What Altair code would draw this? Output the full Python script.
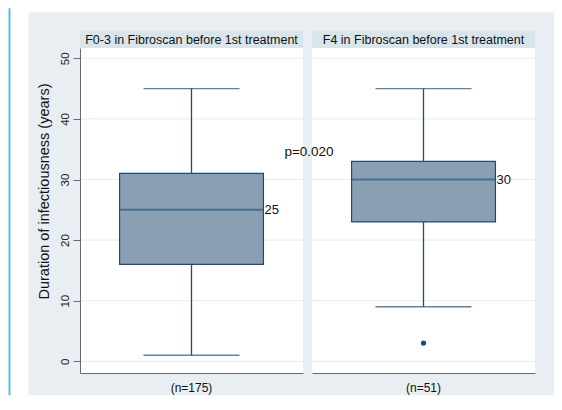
import altair as alt
import pandas as pd

# ---- data ----
panel_titles = ["F0-3 in Fibroscan before 1st treatment", "F4 in Fibroscan before 1st treatment"]
n_labels = ["(n=175)", "(n=51)"]
whisker_low = [1, 9]
quartile_1 = [16, 23]
medians = [25, 30]
quartile_3 = [31, 33]
whisker_high = [45, 45]
outlier_panel = [1]
outlier_values = [3]
p_text = ["p=0.020"]
p_text_y = [34.6]
y_ticks = [0, 10, 20, 30, 40, 50]
y_title = "Duration of infectiousness (years)"

# ---- styling ----
FONT = "Liberation Sans"
W, H = 223, 325
Y_DOMAIN = [-1.93, 51.7]
PANEL_BG = "#E8EEF1"
STRIP_BG = "#D9E4EB"
GRID = "#E4ECEF"
AXIS = "#6A6A6A"
NAVY = "#1F4C76"
BOX_FILL = "#8A9FB4"
CYAN = "#55BFE0"
BOX_W = 144
CAP_W = 96


def make_panel(i):
    first = i == 0
    df = pd.DataFrame({
        "n": [n_labels[i]],
        "title": [panel_titles[i]],
        "lo": [whisker_low[i]],
        "q1": [quartile_1[i]],
        "med": [medians[i]],
        "q3": [quartile_3[i]],
        "hi": [whisker_high[i]],
        "med_label": [str(medians[i])],
    })
    ticks_df = pd.DataFrame({"t": y_ticks})

    if first:
        y_axis = alt.Axis(
            values=y_ticks, grid=False, title=y_title, titleFont=FONT, titleFontSize=14.5,
            titleFontWeight="normal", titleColor="#111", titlePadding=8, titleY=143,
            labelAngle=-90, labelAlign="center", labelBaseline="bottom", labelPadding=3,
            labelFont=FONT, labelFontSize=11.5, labelColor="#222",
            tickSize=7, tickColor=AXIS, domainColor=AXIS, zindex=1,
        )
    else:
        y_axis = None
    yscale = alt.Scale(domain=Y_DOMAIN, nice=False, zero=False)

    def Y(field):
        return alt.Y(f"{field}:Q", scale=yscale, axis=y_axis)

    def Y2(field):
        return alt.Y2(f"{field}:Q")

    x_axis = alt.Axis(
        title=None, ticks=False, domain=True, domainColor=AXIS, labelAngle=0,
        labelFont=FONT, labelFontSize=12, labelColor="#111", labelPadding=9, zindex=1,
    )
    X = alt.X("n:N", scale=alt.Scale(paddingInner=0, paddingOuter=0.275), axis=x_axis)

    base = alt.Chart(df)
    layers = []
    # outer grey-blue panel (background decoration)
    if first:
        layers.append(base.mark_rect(color=CYAN).encode(
            x=alt.value(-71.5), x2=alt.value(-69.5), y=alt.value(-39.7), y2=alt.value(347.3)))
        layers.append(base.mark_rect(color=PANEL_BG).encode(
            x=alt.value(-51.5), x2=alt.value(W + 5), y=alt.value(-35.7), y2=alt.value(347.3)))
    else:
        layers.append(base.mark_rect(color=PANEL_BG).encode(
            x=alt.value(-5), x2=alt.value(242), y=alt.value(-35.7), y2=alt.value(347.3)))
    # white plot region
    layers.append(base.mark_rect(color="white").encode(
        x=alt.value(0), x2=alt.value("width"), y=alt.value(0), y2=alt.value("height")))
    # strip title
    layers.append(base.mark_rect(color=STRIP_BG).encode(
        x=alt.value(0), x2=alt.value("width"), y=alt.value(-16.7), y2=alt.value(0)))
    layers.append(base.mark_text(font=FONT, fontSize=12.5, color="#111", baseline="middle").encode(
        x=X, y=alt.value(-8.2), text="title:N"))
    # grid lines
    layers.append(alt.Chart(ticks_df).mark_rule(color=GRID, strokeWidth=1).encode(y=Y("t")))
    # whisker + caps
    layers.append(base.mark_rule(color=NAVY, strokeWidth=1.3).encode(x=X, y=Y("lo"), y2=Y2("hi")))
    layers.append(base.mark_tick(color=NAVY, size=CAP_W, thickness=1.3).encode(x=X, y=Y("lo")))
    layers.append(base.mark_tick(color=NAVY, size=CAP_W, thickness=1.3).encode(x=X, y=Y("hi")))
    # box
    layers.append(base.mark_bar(color=BOX_FILL, stroke=NAVY, strokeWidth=1.2).encode(
        x=X, y=Y("q1"), y2=Y2("q3")))
    layers.append(base.mark_tick(color="#2C5A82", size=BOX_W, thickness=2).encode(x=X, y=Y("med")))
    layers.append(base.mark_text(font=FONT, fontSize=13, color="#111", align="left",
                                 baseline="middle", dx=BOX_W / 2 + 1).encode(
        x=X, y=Y("med"), text="med_label:N"))
    # outliers
    out_df = pd.DataFrame({
        "n": [n_labels[k] for k in outlier_panel if k == i],
        "v": [v for k, v in zip(outlier_panel, outlier_values) if k == i],
    })
    if len(out_df):
        layers.append(alt.Chart(out_df).mark_point(filled=True, color=NAVY, size=28, opacity=1).encode(
            x=X, y=Y("v")))
    # p-value annotation (sits between the panels)
    if not first:
        p_df = pd.DataFrame({"n": [n_labels[i]], "y": p_text_y, "label": p_text})
        layers.append(alt.Chart(p_df).mark_text(font=FONT, fontSize=13.5, color="#111",
                                                baseline="middle", dx=-114.5).encode(
            x=X, y=Y("y"), text="label:N"))

    return alt.layer(*layers).properties(width=W, height=H)


chart = alt.hconcat(
    make_panel(0), make_panel(1), spacing=9, bounds="flush"
).resolve_scale(x="independent", y="independent").properties(
    padding=0
).configure(background="white").configure_view(stroke=None)

chart.save("out.html", embed_options={"renderer": "svg", "actions": False})
